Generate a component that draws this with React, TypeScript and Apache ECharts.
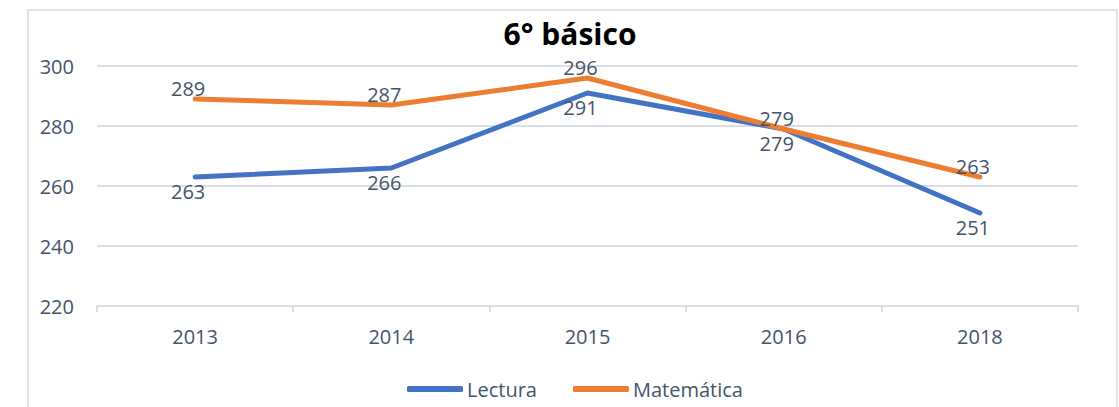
import React, { useEffect, useRef } from "react";
import * as echarts from "echarts";

const categories = ["2013", "2014", "2015", "2016", "2018"];
const lectura = [263, 266, 291, 279, 251];
const matematica = [289, 287, 296, 279, 263];
const titleText = "6° básico";
const seriesNames = ["Lectura", "Matemática"];

const TEXT = "#44546a";
const GRID = "#dadfe6";
const FONT = "'Open Sans', 'Noto Sans', sans-serif";

export default function App() {
  const ref = useRef<HTMLDivElement>(null);
  useEffect(() => {
    if (!ref.current) return;
    const chart = echarts.init(ref.current, undefined, { renderer: "svg" });
    const labelBase = { show: true, color: TEXT, fontSize: 20, fontFamily: FONT, offset: [-7, 0] };
    chart.setOption({
      animation: false,
      backgroundColor: "#ffffff",
      textStyle: { fontFamily: FONT },
      title: {
        text: titleText,
        left: 570,
        top: 20,
        padding: 0,
        textAlign: "center",
        textStyle: { fontSize: 30, fontWeight: "bold", color: "#000000", fontFamily: FONT, lineHeight: 26 },
      },
      graphic: [
        {
          type: "rect",
          shape: { x: 28, y: 10, width: 1089, height: 430 },
          style: { fill: "none", stroke: "#dfe3e9", lineWidth: 2 },
          silent: true,
          z: -1,
        },
      ],
      legend: {
        left: 402,
        top: 374,
        icon: "roundRect",
        itemWidth: 56,
        itemHeight: 6,
        itemGap: 36,
        textStyle: { color: TEXT, fontSize: 20, fontFamily: FONT, padding: [0, 0, 0, -1] },
        data: seriesNames,
      },
      grid: { left: 97, right: 41, top: 66, bottom: 101, containLabel: false },
      xAxis: {
        type: "category",
        data: categories,
        boundaryGap: true,
        axisLine: { show: true, lineStyle: { color: GRID, width: 2 } },
        axisTick: { show: true, length: 6, lineStyle: { color: GRID, width: 2 } },
        axisLabel: { color: TEXT, fontSize: 20, fontFamily: FONT, margin: 20 },
      },
      yAxis: {
        type: "value",
        min: 220,
        max: 300,
        interval: 20,
        axisLine: { show: false },
        axisTick: { show: false },
        axisLabel: { color: TEXT, fontSize: 20, fontFamily: FONT, margin: 23 },
        splitLine: { lineStyle: { color: GRID, width: 2 } },
      },
      series: [
        {
          name: seriesNames[0],
          type: "line",
          data: lectura,
          symbol: "circle",
          symbolSize: 1,
          lineStyle: { color: "#4472c4", width: 5, cap: "round", join: "round" },
          itemStyle: { color: "#4472c4" },
          label: { ...labelBase, position: "bottom", distance: 4 },
          z: 2,
        },
        {
          name: seriesNames[1],
          type: "line",
          data: matematica,
          symbol: "circle",
          symbolSize: 1,
          lineStyle: { color: "#ed7d31", width: 5, cap: "round", join: "round" },
          itemStyle: { color: "#ed7d31" },
          label: { ...labelBase, position: "top", distance: 0 },
          z: 3,
        },
      ],
    });
    return () => chart.dispose();
  }, []);
  return (
    <div
      ref={ref}
      style={{ position: "fixed", left: 0, top: 0, width: 1119, height: 407 }}
    />
  );
}
